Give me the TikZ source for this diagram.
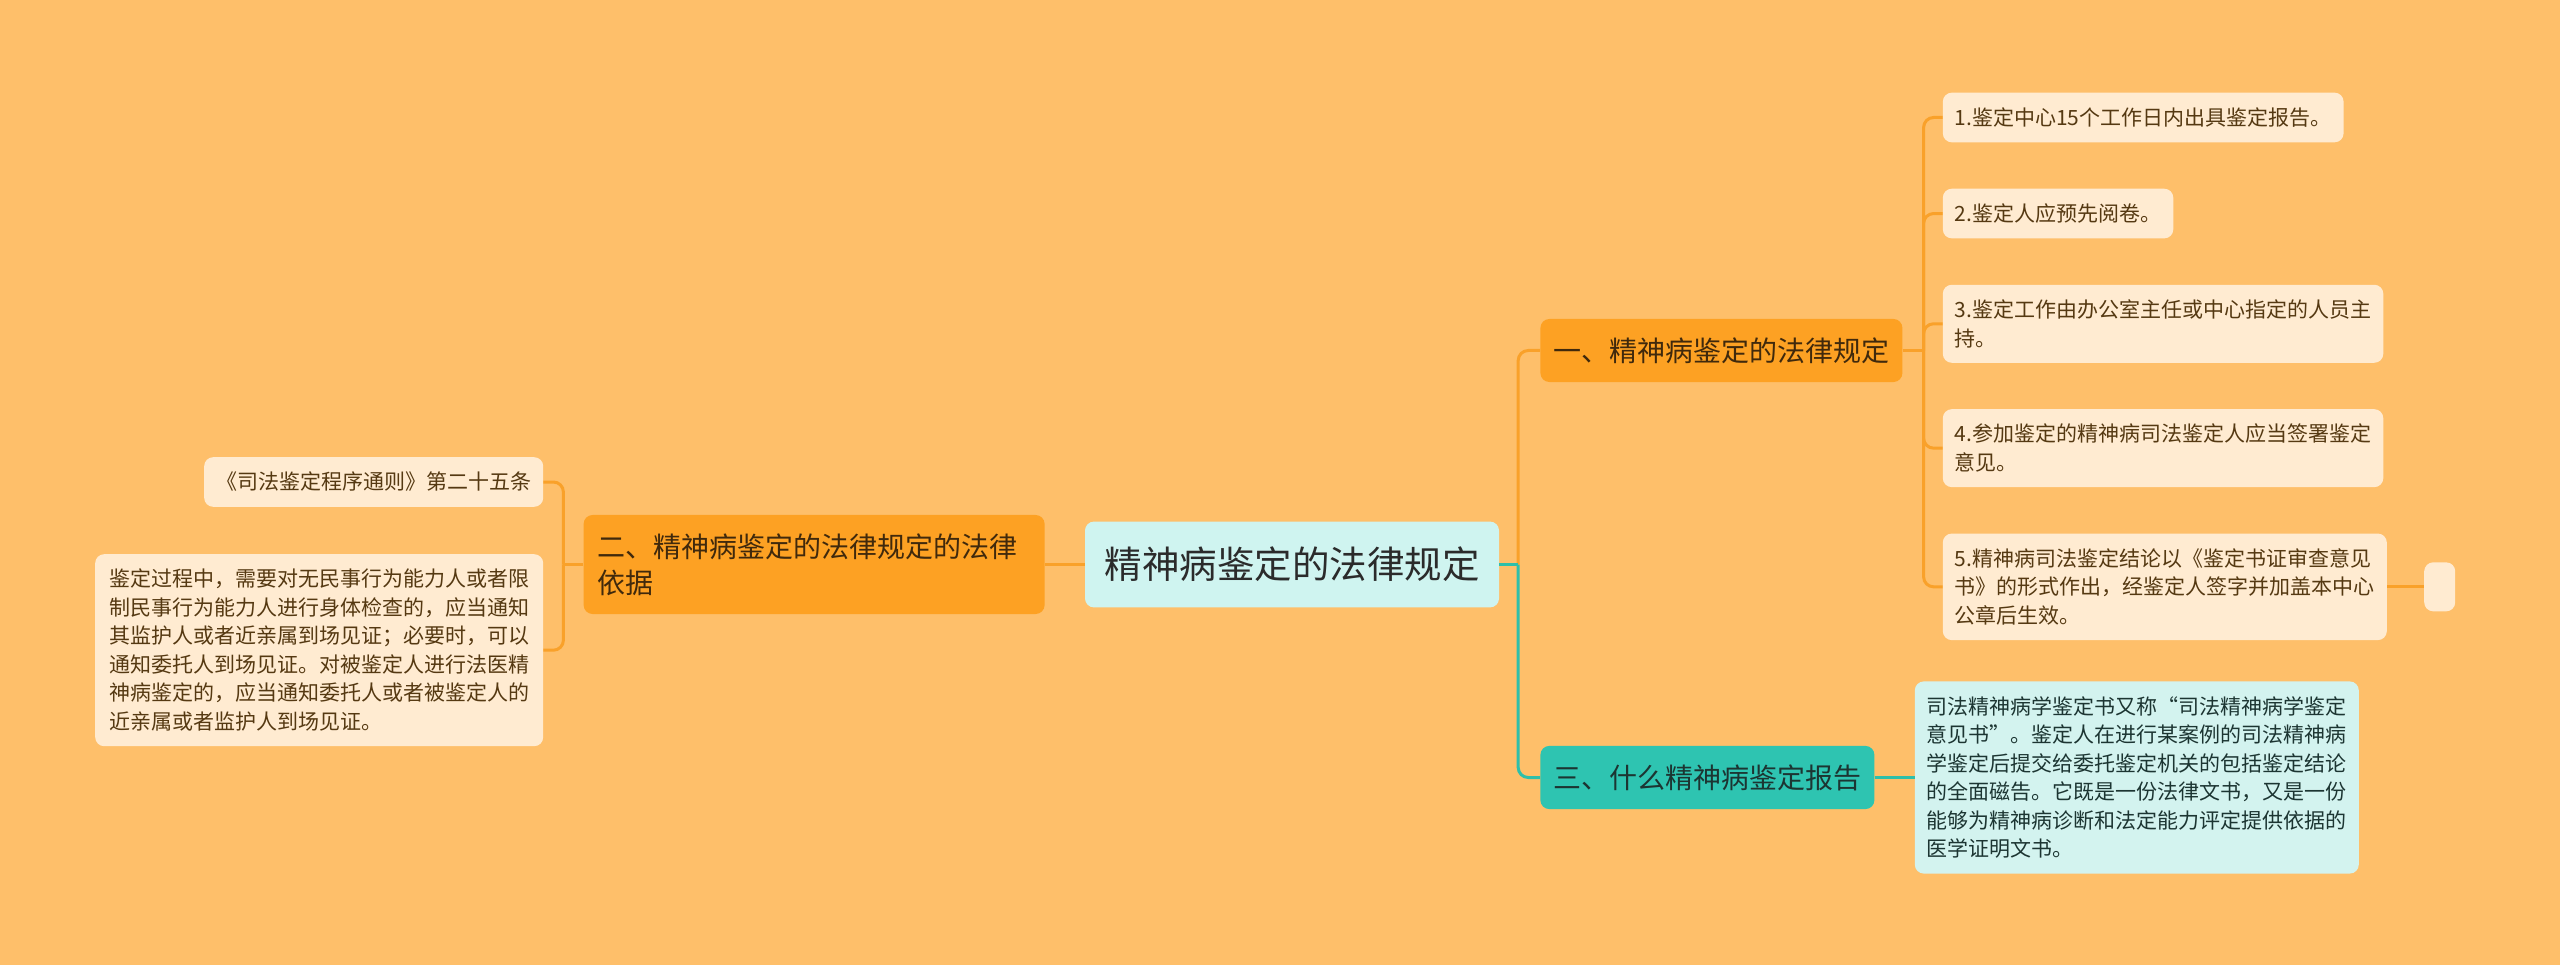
\documentclass[tikz,border=0pt]{standalone}
\usepackage{fontspec}
\setmainfont{Noto Sans CJK SC}
\usepackage{xcolor}
\usetikzlibrary{positioning}
\definecolor{bgcol}{HTML}{FEBF6A}
\definecolor{orangefill}{HTML}{FDA123}
\definecolor{tealfill}{HTML}{2EC4B1}
\definecolor{centralfill}{HTML}{CFF4F0}
\definecolor{leaffill}{HTML}{FFEBD1}
\definecolor{tealleaffill}{HTML}{D3F3EF}
\definecolor{orangeline}{HTML}{F9A12A}
\definecolor{tealline}{HTML}{2EBFAA}
\definecolor{browntext}{HTML}{553912}
\definecolor{topictext}{HTML}{40290C}
\definecolor{darktext}{HTML}{2B2B2B}
\definecolor{tealtext}{HTML}{1C3532}

\begin{document}
\begin{tikzpicture}[
    x=1pt, y=1pt,
    box/.style={rectangle, rounded corners=9pt, align=left},
    central/.style={box, fill=centralfill, text=darktext, font=\fontsize{37.5}{44}\selectfont, inner xsep=19.5pt, inner ysep=25.5pt},
    topic/.style={box, fill=orangefill, text=topictext, font=\fontsize{28}{36}\selectfont, inner xsep=13pt, inner ysep=18.5pt},
    tealtopic/.style={topic, fill=tealfill, text=tealtext},
    leaf/.style={box, fill=leaffill, text=browntext, font=\fontsize{21}{28.5}\selectfont, inner xsep=12pt, inner ysep=15pt},
    tealleaf/.style={leaf, fill=tealleaffill, text=tealtext},
    orangelink/.style={draw=orangeline, line width=3pt},
    teallink/.style={draw=tealline, line width=3pt}
    ]
    \fill[bgcol] (0,0) rectangle (2560,-965);
    \node[central] (Root) at (1292,-564.5) {精神病鉴定的法律规定};
    \node[topic, right=41pt of Root, yshift=214pt] (Rules) {一、精神病鉴定的法律规定};
    \node[topic, left=40pt of Root, text width=433pt, inner xsep=14pt] (Basis) {
      二、精神病鉴定的法律规定的法律\\
      依据
    };
    \node[tealtopic, right=41pt of Root, yshift=-213pt] (Report) {三、什么精神病鉴定报告};
    \node[leaf, right=40pt of Rules, yshift=233pt] (RuleOne) {1.鉴定中心15个工作日内出具鉴定报告。};
    \node[leaf, below=46pt of RuleOne.south west, anchor=north west] (RuleTwo) {2.鉴定人应预先阅卷。};
    \node[leaf, below=46pt of RuleTwo.south west, anchor=north west] (RuleThree) {
      3.鉴定工作由办公室主任或中心指定的人员主\\
      持。
    };
    \node[leaf, below=46pt of RuleThree.south west, anchor=north west] (RuleFour) {
      4.参加鉴定的精神病司法鉴定人应当签署鉴定\\
      意见。
    };
    \node[leaf, below=46pt of RuleFour.south west, anchor=north west] (RuleFive) {
      5.精神病司法鉴定结论以《鉴定书证审查意见\\
      书》的形式作出，经鉴定人签字并加盖本中心\\
      公章后生效。
    };
    \node[leaf, right=37pt of RuleFive, minimum width=31pt, minimum height=49pt, inner sep=0pt] (Blank) {};
    \node[leaf, left=40pt of Basis, yshift=82.5pt] (BasisSource) {《司法鉴定程序通则》第二十五条};
    \node[leaf, below=47pt of BasisSource.south east, anchor=north east, inner xsep=14pt] (BasisText) {
      鉴定过程中，需要对无民事行为能力人或者限\\
      制民事行为能力人进行身体检查的，应当通知\\
      其监护人或者近亲属到场见证；必要时，可以\\
      通知委托人到场见证。对被鉴定人进行法医精\\
      神病鉴定的，应当通知委托人或者被鉴定人的\\
      近亲属或者监护人到场见证。
    };
    \node[tealleaf, right=40pt of Report] (ReportText) {
      司法精神病学鉴定书又称“司法精神病学鉴定\\
      意见书”。鉴定人在进行某案例的司法精神病\\
      学鉴定后提交给委托鉴定机关的包括鉴定结论\\
      的全面磁告。它既是一份法律文书，又是一份\\
      能够为精神病诊断和法定能力评定提供依据的\\
      医学证明文书。
    };
    \coordinate (RootJoint) at ([xshift=19pt]Root.east);
    \coordinate (RulesJoint) at ([xshift=21pt]Rules.east);
    \coordinate (BasisJoint) at ([xshift=-20pt]Basis.west);
    \draw[orangelink, rounded corners=10pt] (RootJoint) |- (Rules.west);
    \draw[teallink, rounded corners=10pt] (RootJoint) |- (Report.west);
    \draw[teallink] (Root.east) -- (RootJoint);
    \draw[orangelink] (Root.west) -- (Basis.east);
    \draw[orangelink] (Rules.east) -- (RulesJoint);
    \foreach \leaf in {RuleOne,RuleTwo,RuleThree,RuleFour,RuleFive}
      \draw[orangelink, rounded corners=10pt] (RulesJoint) |- (\leaf.west);
    \draw[orangelink] (RuleFive.east) -- (Blank.west);
    \draw[orangelink] (Basis.west) -- (BasisJoint);
    \foreach \leaf in {BasisSource,BasisText}
      \draw[orangelink, rounded corners=10pt] (BasisJoint) |- (\leaf.east);
    \draw[teallink] (Report.east) -- (ReportText.west);
  \end{tikzpicture}
\end{document}
